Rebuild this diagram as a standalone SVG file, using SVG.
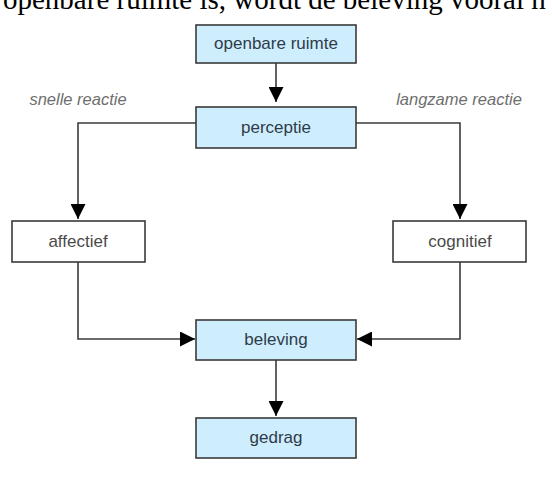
<svg xmlns="http://www.w3.org/2000/svg" width="552" height="482" viewBox="0 0 552 482">
  <defs>
    <marker id="arrow" viewBox="0 0 15 15" refX="15" refY="7.5" markerWidth="15" markerHeight="15" markerUnits="userSpaceOnUse" orient="auto">
      <path d="M0,0 L15,7.5 L0,15 Z" fill="#000"/>
    </marker>
  </defs>
  <style>
    .box { stroke: #3a3a3a; stroke-width: 1.6; }
    .blue { fill: #cfeefd; }
    .white { fill: #ffffff; }
    .label { font-family: "Liberation Sans", Arial, sans-serif; font-size: 17px; fill: #2e3b4a; text-anchor: middle; }
    .plain { fill: #4a4a4a; }
    .note { font-family: "Liberation Sans", Arial, sans-serif; font-size: 16.5px; font-style: italic; fill: #6e6e6e; text-anchor: middle; }
    .wire { fill: none; stroke: #3a3a3a; stroke-width: 1.6; }
    .body { font-family: "Liberation Serif", "Times New Roman", serif; font-size: 29px; fill: #000; }
  </style>
  <rect width="552" height="482" fill="#ffffff"/>

  <!-- running text line above the figure -->
  <text class="body" x="3" y="9">openbare ruimte is, wordt de beleving vooral n</text>

  <g id="connectors">
    <path class="wire" d="M276,63 V102" marker-end="url(#arrow)"/>
    <path class="wire" d="M196,123 H78 V219" marker-end="url(#arrow)"/>
    <path class="wire" d="M356,123 H460 V219" marker-end="url(#arrow)"/>
    <path class="wire" d="M78,262 V339 H195" marker-end="url(#arrow)"/>
    <path class="wire" d="M460,262 V339 H357" marker-end="url(#arrow)"/>
    <path class="wire" d="M276,360 V416" marker-end="url(#arrow)"/>
  </g>

  <text class="note" x="78" y="105">snelle reactie</text>
  <text class="note" x="459" y="105">langzame reactie</text>

  <g id="openbare-ruimte">
    <rect class="box blue" x="196" y="25" width="160" height="38"/>
    <text class="label" x="276" y="49">openbare ruimte</text>
  </g>
  <g id="perceptie">
    <rect class="box blue" x="196" y="107" width="160" height="41"/>
    <text class="label" x="276" y="133">perceptie</text>
  </g>
  <g id="affectief">
    <rect class="box white" x="12" y="221" width="133" height="41"/>
    <text class="label plain" x="78" y="247">affectief</text>
  </g>
  <g id="cognitief">
    <rect class="box white" x="393" y="221" width="133" height="41"/>
    <text class="label plain" x="460" y="247">cognitief</text>
  </g>
  <g id="beleving">
    <rect class="box blue" x="196" y="320" width="160" height="40"/>
    <text class="label" x="276" y="345">beleving</text>
  </g>
  <g id="gedrag">
    <rect class="box blue" x="196" y="418" width="160" height="40"/>
    <text class="label" x="276" y="443">gedrag</text>
  </g>
</svg>
